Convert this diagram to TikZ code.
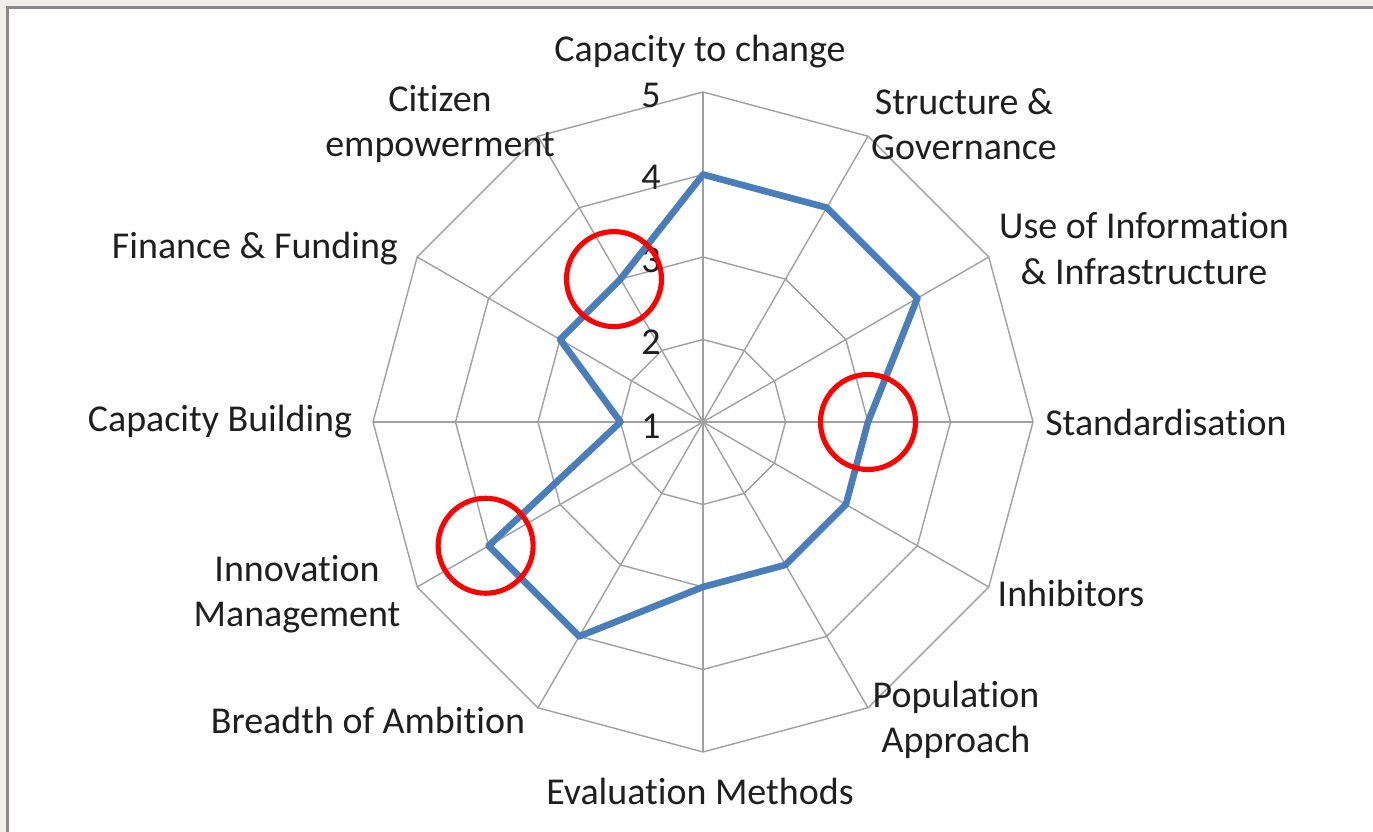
\documentclass[tikz,border=0pt]{standalone}
\usepackage{fontspec}
\setmainfont{Carlito}[Ligatures=NoCommon]
\definecolor{gridgray}{RGB}{160,160,160}
\definecolor{framegray}{RGB}{136,136,136}
\definecolor{pagegray}{RGB}{240,239,233}
\definecolor{lineblue}{RGB}{74,126,187}
\tikzset{
  gridline/.style={line width=0.8pt, gridgray},
  axislabel/.style={align=center, inner sep=0pt, font=\fontsize{21.6}{25.8}\selectfont, text=black!88},
  ticklabel/.style={inner sep=0pt, font=\fontsize{21.6}{25.8}\selectfont, text=black!88},
  scoreline/.style={line width=3.8pt, lineblue, line join=round},
  highlight/.style={line width=2.9pt, red}
}
\begin{document}
\begin{tikzpicture}
			\useasboundingbox (-14.06,-8.20) rectangle (13.40,8.44);
			\fill[pagegray] (-14.06,-8.20) rectangle (13.40,8.44);
			\fill[white] (-13.91,-8.20) rectangle (13.40,8.29);
			\draw[framegray, line width=0.06cm] (-13.91,-8.20) -- (-13.91,8.29) -- (13.40,8.29);
			% grid: rings and spokes
			\foreach \r in {1,...,4}
				\draw[gridline] (90:\r*1.65) \foreach \k in {1,...,11}{ -- ({90-30*\k}:\r*1.65)} -- cycle;
			\foreach \k in {0,...,11}
				\draw[gridline] (0,0) -- ({90-30*\k}:6.6);
			% scale
			\node[ticklabel] (n1) at (-1.04,-0.08) {1};
			\node[ticklabel] (n2) at (-1.04,1.59) {2};
			\node[ticklabel] (n3) at (-1.04,3.24) {3};
			\node[ticklabel] (n4) at (-1.04,4.89) {4};
			\node[ticklabel] (n5) at (-1.04,6.54) {5};
			% axis names
			\node[axislabel] (capchange) at (-0.06,7.40) {Capacity to change};
			\node[axislabel] (structure) at (5.22,5.96) {Structure \&\\Governance};
			\node[axislabel] (useinfo) at (8.82,3.47) {Use of Information\\\& Infrastructure};
			\node[axislabel] (standard) at (9.26,0) {Standardisation};
			\node[axislabel] (inhibit) at (7.36,-3.42) {Inhibitors};
			\node[axislabel] (population) at (5.06,-5.96) {Population\\Approach};
			\node[axislabel] (evaluation) at (-0.06,-7.38) {Evaluation Methods};
			\node[axislabel] (breadth) at (-6.70,-5.96) {Breadth of Ambition};
			\node[axislabel] (innovation) at (-8.12,-3.45) {Innovation\\Management};
			\node[axislabel] (capbuild) at (-9.66,0) {Capacity Building};
			\node[axislabel] (finance) at (-8.96,3.46) {Finance \& Funding};
			\node[axislabel] (citizen) at (-5.26,5.96) {Citizen\\empowerment};
			% scores
			\foreach \v [count=\k from 0] in {4,4,4,3,3,3,3,4,4,2,3,3}
				\coordinate (p\k) at ({90-30*\k}:{(\v-1)*1.65});
			\draw[scoreline] (p0) -- (p1) -- (p2) -- (p3) -- (p4) -- (p5) -- (p6) -- (p7) -- (p8) -- (p9) -- (p10) -- (p11) -- cycle;
			% marked scores
			\draw[highlight] ([xshift=-0.13cm]p11) circle (0.95);
			\draw[highlight] (p3) circle (0.95);
			\draw[highlight] ([xshift=-0.06cm]p8) circle (0.95);
		\end{tikzpicture}
\end{document}
